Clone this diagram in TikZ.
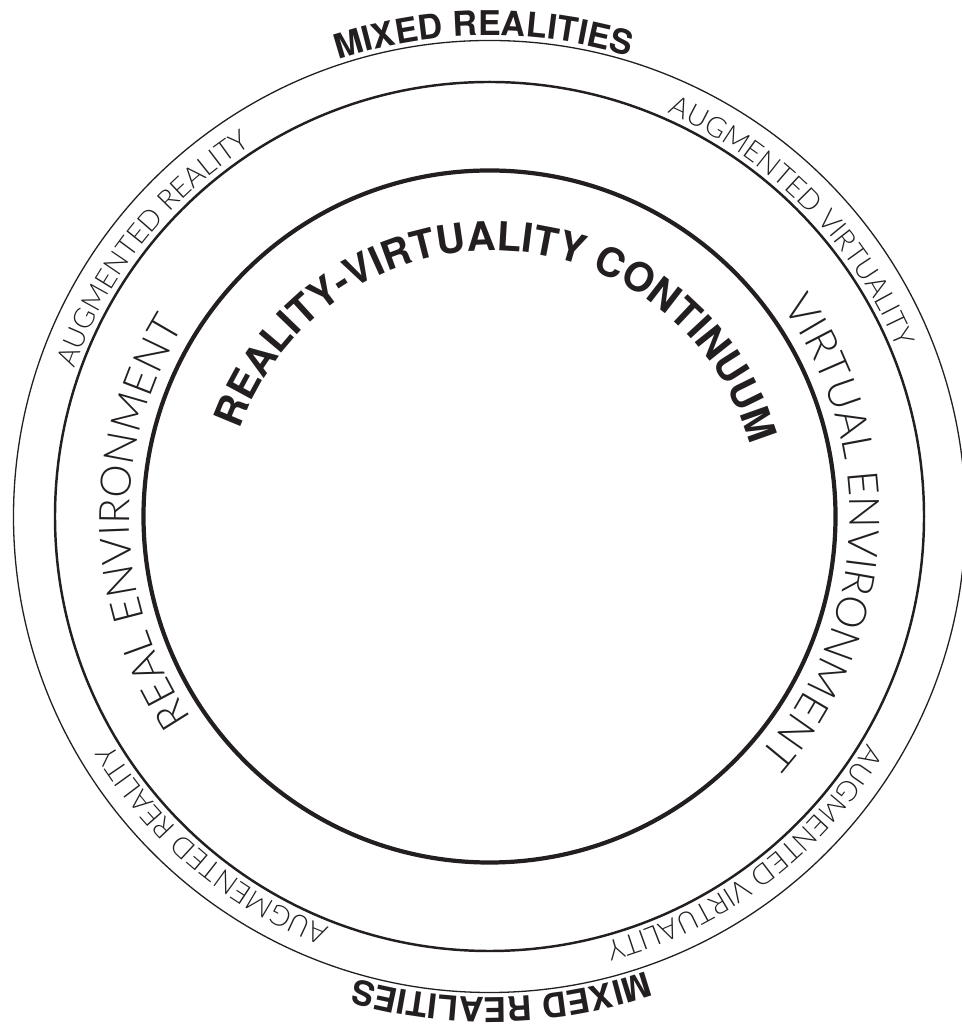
\documentclass[tikz,border=0pt]{standalone}
\usepackage{fontspec}
\usepackage{tikz}
\usetikzlibrary{decorations.text}
\newfontfamily\thinfont{Lato Light}
\newfontfamily\heavyfont{TeX Gyre Heros}
\definecolor{ink}{RGB}{35,31,32}
\newcommand{\mixedlab}{\heavyfont\bfseries\fontsize{9.7}{9.7}\selectfont\color{ink}}
\newcommand{\ringlab}{\thinfont\fontsize{8}{8}\selectfont\color{ink}}
\newcommand{\envlab}{\thinfont\fontsize{12}{12}\selectfont\color{ink}}
\newcommand{\titlelab}{\heavyfont\bfseries\fontsize{11.4}{11.4}\selectfont\color{ink}}
\tikzset{
  ring/.style={draw=ink},
  outerring/.style={ring,line width=0.37pt},
  midring/.style={ring,line width=0.7pt},
  innerring/.style={ring,line width=1.2pt},
  curved/.style={decorate,decoration={text along path,text align=center,text={#1}}},
}
\begin{document}
\begin{tikzpicture}
  \useasboundingbox (-4.895,-5.125) rectangle (4.715,5.165);
  \coordinate (c) at (0,0);
  \coordinate (t) at (0.03,-0.02);
  % the three rings
  \draw[outerring] (c) circle[radius=4.76];
  \draw[midring] (c) circle[radius=4.345];
  \draw[innerring] (c) circle[radius=3.46];
  % outside the outer ring
  \path[curved={|\mixedlab|MIXED REALITIES}] (c) ++(120.7:4.81) arc[start angle=120.7,end angle=60.7,radius=4.81];
  \path[curved={|\mixedlab|MIXED REALITIES}] (c) ++(301.4:4.81) arc[start angle=301.4,end angle=241.4,radius=4.81];
  % between outer and middle ring
  \path[curved={|\ringlab|AUGMENTED REALITY}] (c) ++(171.5:4.41) arc[start angle=171.5,end angle=111.5,radius=4.41];
  \path[curved={|\ringlab|AUGMENTED VIRTUALITY}] (c) ++(74.3:4.41) arc[start angle=74.3,end angle=14.3,radius=4.41];
  \path[curved={|\ringlab|AUGMENTED REALITY}] (c) ++(259.9:4.41) arc[start angle=259.9,end angle=199.9,radius=4.41];
  \path[curved={|\ringlab|AUGMENTED VIRTUALITY}] (c) ++(337.1:4.41) arc[start angle=337.1,end angle=277.1,radius=4.41];
  % between middle and inner ring
  \path[curved={|\envlab|REAL ENVIRONMENT}] (c) ++(236:3.6) arc[start angle=236,end angle=126,radius=3.6];
  \path[curved={|\envlab|VIRTUAL ENVIRONMENT}] (c) ++(52.1:3.6) arc[start angle=52.1,end angle=-57.9,radius=3.6];
  % inside
  \path[curved={|\titlelab|REALITY-VIRTUALITY CONTINUUM}] (t) ++(176.3:2.68) arc[start angle=176.3,end angle=0.3,radius=2.68];
\end{tikzpicture}
\end{document}
